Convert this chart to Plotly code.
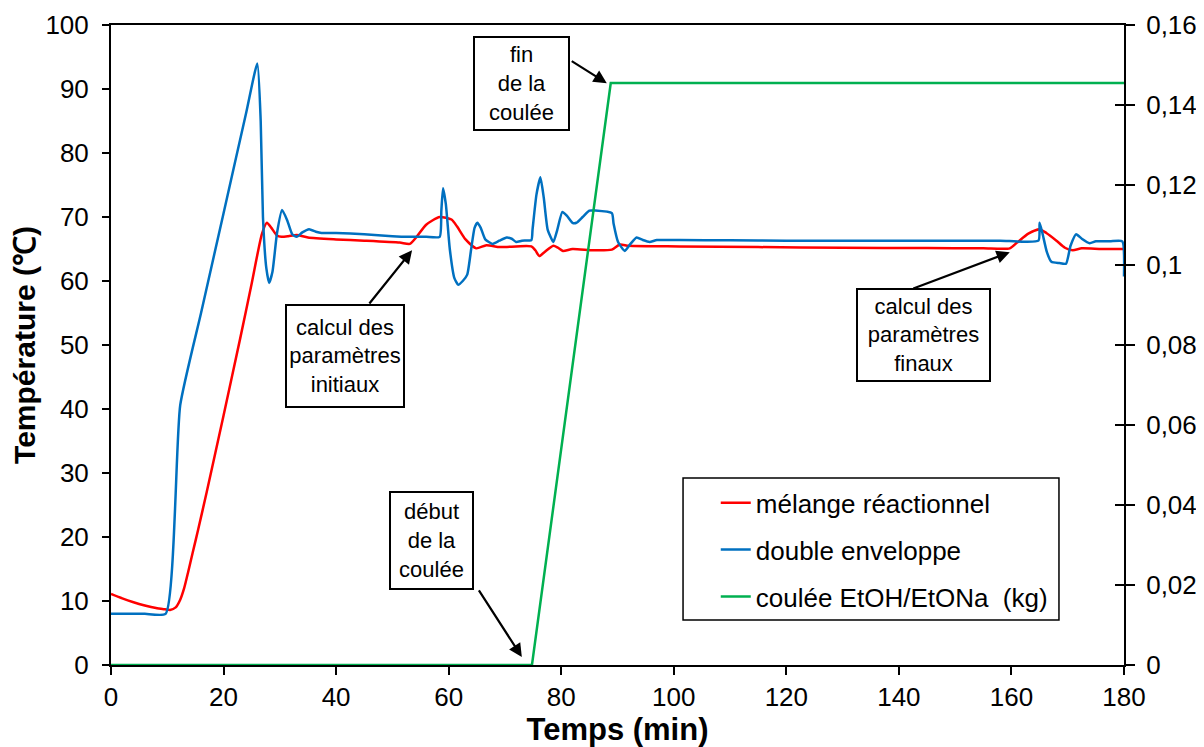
import plotly.graph_objects as go

# --- data ---
t_melange = [0, 2, 4, 6, 8, 9.6, 10.5, 11.5, 12.3, 13.0, 13.7, 14.5, 15.5, 17.0, 20, 22.9, 25,
             26.8, 27.7, 28.5, 29.5, 30.3, 31.5, 33, 35, 40, 45, 51.3, 53.1, 54.3, 56, 58.4, 60.5,
             61.5, 63.0, 64.9, 66.7, 69.1, 74.7, 75.4, 76.1, 77, 78.6, 79.4, 80.3, 82, 85.7,
             89, 90.4, 92, 101, 115, 130, 145, 155, 159.7, 161, 163, 165, 166.2, 168, 169.5,
             170.9, 172.5, 176, 180]
T_melange = [11.1, 10.4, 9.8, 9.3, 8.9, 8.7, 8.6, 9.0, 10.2, 12.0, 14.5, 17.5, 21.2, 27.0, 39.0,
             50.8, 59.6, 67.3, 69.1, 68.3, 67.1, 66.9, 67.0, 67.2, 66.8, 66.5, 66.3, 66.0, 65.8,
             66.9, 68.8, 70.0, 69.6, 68.5, 66.5, 65.1, 65.6, 65.3, 65.4, 64.8, 63.9, 64.5, 65.5,
             65.2, 64.7, 65.0, 64.8, 64.9, 65.7, 65.5, 65.4, 65.3, 65.2, 65.15, 65.1, 65.1, 66.0,
             67.4, 68.1, 67.5, 66.3, 65.2, 64.8, 65.1, 65.0, 65.0]

t_double = [0, 3, 6, 9.7, 12.3, 16, 20, 24, 26.0, 26.6, 27.0, 27.6, 28.1, 28.7, 29.5, 30.4, 31.3,
            32.2, 33.0, 34.0, 35.2, 36.4, 37.4, 40, 45, 50, 53, 56, 58.4, 58.7, 59.0, 59.5, 60.2,
            61.0, 61.7, 62.5, 63.3, 64.0, 64.6, 65.1, 65.7, 66.5, 67.8, 69.0, 70.3, 71.2, 72.0,
            73.0, 74.7, 74.9, 75.6, 76.3, 76.9, 77.6, 78.6, 79.3, 80.2, 81.0, 82.0, 82.7, 83.8,
            85.0, 86, 89.0, 89.3, 90.1, 91.3, 92.3, 93.4, 94.5, 95.7, 97, 101, 110, 120, 130, 140,
            150, 158, 164.8, 165.0, 165.5, 166.3, 167.1, 168.5, 169.7, 170.5, 171.5, 172.5, 173.9,
            175, 177.5, 179.7, 180]
T_double = [8.0, 8.0, 8.0, 8.0, 40.6, 55.0, 70.6, 86.2, 94.0, 85, 70, 62, 59.7, 61.5, 67.5, 71.1,
            69.5, 67.3, 66.9, 67.6, 68.1, 67.7, 67.5, 67.5, 67.3, 67.0, 66.9, 66.9, 66.9, 71, 74.5,
            72, 65, 60.5, 59.4, 60, 61.0, 65, 68.3, 69.1, 68.3, 66.5, 65.8, 66.3, 66.8, 66.6, 66.1,
            66.3, 66.4, 68, 73.5, 76.2, 73, 68, 66.1, 68, 70.8, 70.2, 69.1, 69.1, 70,
            71.0, 71.0, 70.6, 69, 66.1, 64.7, 65.8, 66.8, 66.4, 66.1, 66.4, 66.4, 66.35, 66.3, 66.3,
            66.3, 66.3, 66.3, 66.3, 69.1, 67.5, 64.5, 63.0, 62.8, 62.7, 65.5, 67.3, 66.6, 65.9,
            66.2, 66.2, 66.2, 60.7]

t_coulee = [0, 74.8, 88.8, 180]
m_coulee = [0, 0, 0.1455, 0.1455]

y2_ticks = [0, 0.02, 0.04, 0.06, 0.08, 0.1, 0.12, 0.14, 0.16]

font = "Liberation Sans, Arial, sans-serif"

fig = go.Figure()
fig.add_trace(go.Scatter(x=t_melange, y=T_melange, mode="lines", name="mélange réactionnel",
                         line=dict(color="#FF0000", width=2.5, shape="spline", smoothing=0.6),
                         legendgroup="a"))
fig.add_trace(go.Scatter(x=t_double, y=T_double, mode="lines", name="double enveloppe",
                         line=dict(color="#0070C0", width=2.5, shape="spline", smoothing=0.5),
                         legendgroup="b"))
fig.add_trace(go.Scatter(x=t_coulee, y=m_coulee, mode="lines", name="coulée EtOH/EtONa  (kg)",
                         line=dict(color="#00B050", width=2.5), yaxis="y2", legendgroup="c"))
fig.add_trace(go.Scatter(x=[], y=[], yaxis="y3", showlegend=False, hoverinfo="skip"))

# text boxes
boxes = [
    ("calcul des<br>paramètres<br>initiaux", 41.6, 48.3, 112, 96),
    ("début<br>de la<br>coulée", 57.0, 19.5, 77, 91),
    ("fin<br>de la<br>coulée", 73.0, 90.9, 89, 87),
    ("calcul des<br>paramètres<br>finaux", 144.3, 51.6, 127, 86),
]
for txt, bx, by, w, h in boxes:
    fig.add_annotation(x=bx, y=by, xref="x", yref="y", text=txt, showarrow=False,
                       font=dict(family=font, size=22, color="black"),
                       bordercolor="black", borderwidth=2, borderpad=2, bgcolor="white",
                       width=w, height=h)

# arrows (tail -> head)
arrows = [
    (45.7, 56.25, 53.5, 64.8),
    (65.2, 11.9, 73.0, 1.25),
    (81.6, 94.5, 88.1, 90.9),
    (142.3, 58.75, 159.7, 64.5),
]
for x0, y0, x1, y1 in arrows:
    fig.add_annotation(x=x1, y=y1, ax=x0, ay=y0, xref="x", yref="y", axref="x", ayref="y",
                       text="", showarrow=True, arrowhead=2, arrowsize=1.2, arrowwidth=2.2,
                       arrowcolor="black")

# legend frame
fig.add_shape(type="rect", xref="paper", yref="paper", x0=0.5647, x1=0.9358, y0=0.0703,
              y1=0.2922, line=dict(color="black", width=1.5), fillcolor="white", layer="below")

fig.update_layout(
    width=1196, height=739,
    margin=dict(l=103, r=80, t=17, b=82, autoexpand=False),
    paper_bgcolor="white", plot_bgcolor="white",
    separators=", ",
    font=dict(family=font, size=26, color="black"),
    showlegend=True,
    legend=dict(x=0.597, y=0.290, xanchor="left", yanchor="top",
                borderwidth=0, bgcolor="rgba(0,0,0,0)",
                font=dict(family=font, size=26), tracegroupgap=10,
                traceorder="grouped"),
    xaxis=dict(range=[0, 180], dtick=20, tick0=0, showline=True, linecolor="black",
               linewidth=2, mirror=True, ticks="outside", ticklen=8, tickwidth=1.5,
               tickcolor="black", showgrid=False, zeroline=False, automargin=False,
               tickfont=dict(size=26),
               title=dict(text="<b>Temps (min)</b>", font=dict(size=31), standoff=2)),
    yaxis=dict(range=[0, 100], dtick=10, tick0=0, showline=True, linecolor="black",
               linewidth=2, ticks="outside", ticklen=7, tickwidth=1.5, tickcolor="black",
               showgrid=False, zeroline=False, tickfont=dict(size=26), ticklabelstandoff=8,
               automargin=False,
               title=dict(text="<b>Température (℃)</b>", font=dict(size=30), standoff=6)),
    yaxis2=dict(range=[0, 0.16], tickvals=y2_ticks, overlaying="y", side="right",
                showline=True, linecolor="black", linewidth=2, ticks="outside", ticklen=9,
                tickwidth=1.5, tickcolor="black", showgrid=False, zeroline=False,
                tickfont=dict(size=26), ticklabelstandoff=6, automargin=False),
    yaxis3=dict(range=[0, 0.16], tickvals=y2_ticks, overlaying="y", side="right",
                showline=False, ticks="inside", ticklen=9, tickwidth=1.5, tickcolor="black",
                showticklabels=False, showgrid=False, zeroline=False, automargin=False),
)

fig.write_html("out.html")
